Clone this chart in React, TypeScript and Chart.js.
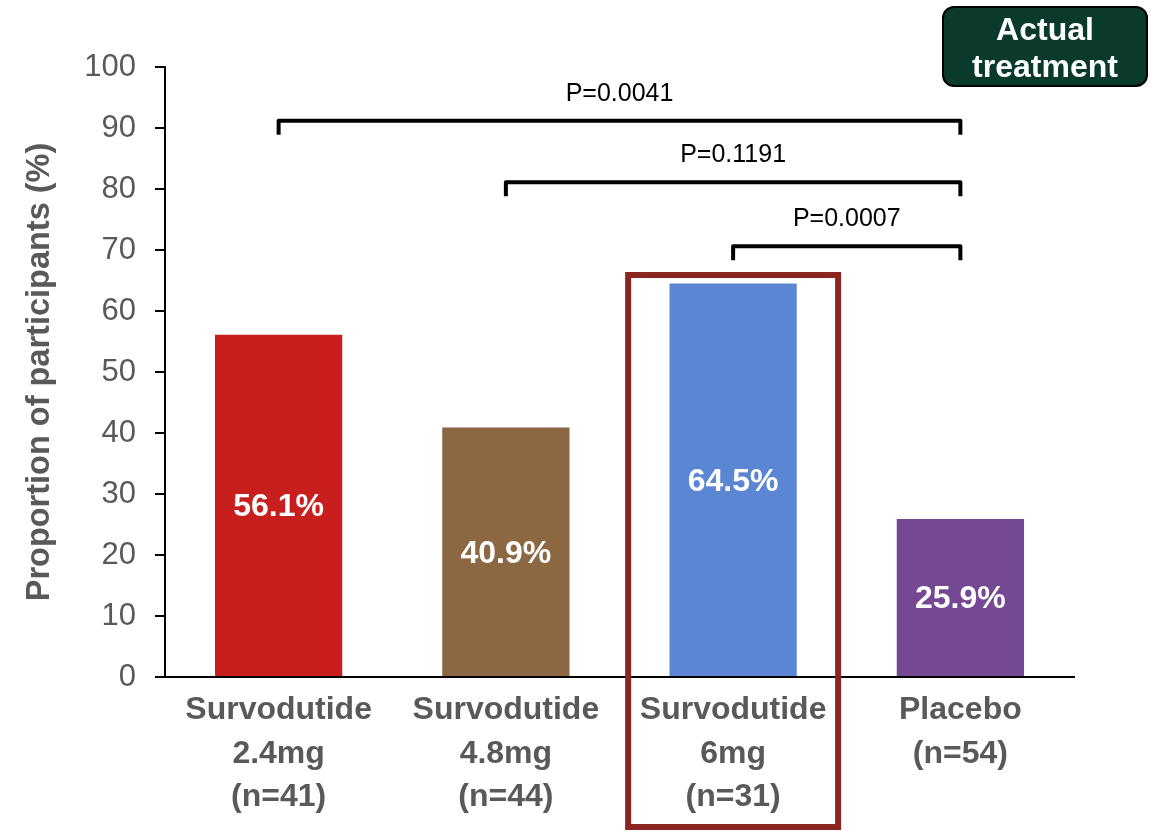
import React, { useEffect, useRef } from 'react';
import { Chart, registerables } from 'chart.js';

Chart.register(...registerables);

const categories: string[][] = [
  ['Survodutide', '2.4mg', '(n=41)'],
  ['Survodutide', '4.8mg', '(n=44)'],
  ['Survodutide', '6mg', '(n=31)'],
  ['Placebo', '(n=54)'],
];
const values = [56.1, 40.9, 64.5, 25.9];
const valueLabels = ['56.1%', '40.9%', '64.5%', '25.9%'];
const barColors = ['#C81E1E', '#8B6742', '#5B86D3', '#744892'];
const bracketFrom = [0, 1, 2];
const bracketTo = [3, 3, 3];
const bracketLevels = [91.2, 81.1, 70.6];
const pLabels = ['P=0.0041', 'P=0.1191', 'P=0.0007'];
const highlightIndex = 2;
const badgeLines = ['Actual', 'treatment'];
const yTitle = 'Proportion of participants (%)';
const yMin = 0;
const yMax = 100;
const yStep = 10;

const FONT = '"Liberation Sans", Arial, sans-serif';
const GRAY = '#595959';

const overlayPlugin = {
  id: 'overlay',
  afterDatasetsDraw(chart: any) {
    const ctx = chart.ctx;
    const meta = chart.getDatasetMeta(0);
    ctx.save();
    ctx.fillStyle = '#FFFFFF';
    ctx.font = `bold 32px ${FONT}`;
    ctx.textAlign = 'center';
    ctx.textBaseline = 'middle';
    meta.data.forEach((bar: any, i: number) => {
      ctx.fillText(valueLabels[i], bar.x, (bar.y + bar.base) / 2 + 2);
    });
    ctx.restore();
  },
  afterDraw(chart: any) {
    const ctx = chart.ctx;
    const x = chart.scales.x;
    const y = chart.scales.y;
    ctx.save();
    // brackets
    ctx.strokeStyle = '#000000';
    ctx.lineWidth = 4;
    ctx.lineJoin = 'round';
    ctx.lineCap = 'butt';
    bracketLevels.forEach((lvl, i) => {
      const x1 = x.getPixelForValue(bracketFrom[i]);
      const x2 = x.getPixelForValue(bracketTo[i]);
      const yy = y.getPixelForValue(lvl);
      ctx.beginPath();
      ctx.moveTo(x1, yy + 14);
      ctx.lineTo(x1, yy);
      ctx.lineTo(x2, yy);
      ctx.lineTo(x2, yy + 14);
      ctx.stroke();
      ctx.fillStyle = '#000000';
      ctx.font = `25px ${FONT}`;
      ctx.textAlign = 'center';
      ctx.textBaseline = 'middle';
      ctx.fillText(pLabels[i], (x1 + x2) / 2, yy - 27);
    });
    // highlight box
    const cx = x.getPixelForValue(highlightIndex);
    const cw = x.getPixelForValue(1) - x.getPixelForValue(0);
    ctx.strokeStyle = '#8B2520';
    ctx.lineWidth = 6;
    ctx.lineJoin = 'miter';
    ctx.strokeRect(cx - cw * 0.462, 275, cw * 0.924, 552);
    // badge
    const bx = 943, by = 7, bw = 204, bh = 79, r = 11;
    ctx.beginPath();
    ctx.moveTo(bx + r, by);
    ctx.lineTo(bx + bw - r, by);
    ctx.arcTo(bx + bw, by, bx + bw, by + r, r);
    ctx.lineTo(bx + bw, by + bh - r);
    ctx.arcTo(bx + bw, by + bh, bx + bw - r, by + bh, r);
    ctx.lineTo(bx + r, by + bh);
    ctx.arcTo(bx, by + bh, bx, by + bh - r, r);
    ctx.lineTo(bx, by + r);
    ctx.arcTo(bx, by, bx + r, by, r);
    ctx.closePath();
    ctx.fillStyle = '#0A3A2C';
    ctx.fill();
    ctx.strokeStyle = '#000000';
    ctx.lineWidth = 2;
    ctx.stroke();
    ctx.fillStyle = '#FFFFFF';
    ctx.font = `bold 32px ${FONT}`;
    ctx.textAlign = 'center';
    ctx.textBaseline = 'middle';
    ctx.fillText(badgeLines[0], bx + bw / 2, 31);
    ctx.fillText(badgeLines[1], bx + bw / 2, 68);
    ctx.restore();
  },
};

export default function App() {
  const ref = useRef<HTMLCanvasElement | null>(null);
  useEffect(() => {
    if (!ref.current) return;
    const chart = new Chart(ref.current, {
      type: 'bar',
      data: {
        labels: categories,
        datasets: [
          {
            data: values,
            backgroundColor: barColors,
            borderWidth: 0,
            barPercentage: 0.56,
            categoryPercentage: 1,
          },
        ],
      },
      options: {
        responsive: false,
        animation: false,
        layout: { padding: { top: 67, right: 77, left: 0, bottom: 0 } },
        plugins: {
          legend: { display: false },
          tooltip: { enabled: false },
        },
        scales: {
          x: {
            grid: { display: false, drawTicks: false },
            border: { display: true, color: '#000000', width: 2 },
            ticks: {
              color: GRAY,
              padding: 12,
              maxRotation: 0,
              autoSkip: false,
              font: { family: FONT, size: 32, weight: 'bold', lineHeight: 1.35 },
            },
            afterFit: (s: any) => {
              s.height = 154;
            },
          },
          y: {
            min: yMin,
            max: yMax,
            ticks: {
              stepSize: yStep,
              color: GRAY,
              padding: 19,
              font: { family: FONT, size: 31 },
            },
            grid: {
              drawOnChartArea: false,
              drawTicks: true,
              tickLength: 10,
              color: '#000000',
              lineWidth: 2,
            },
            border: { display: true, color: '#000000', width: 2 },
            title: {
              display: true,
              text: yTitle,
              color: GRAY,
              padding: { top: 21, bottom: 0 },
              font: { family: FONT, size: 32.5, weight: 'bold' },
            },
            afterFit: (s: any) => {
              s.width = 165;
            },
          },
        },
      },
      plugins: [overlayPlugin],
    });
    return () => chart.destroy();
  }, []);
  return (
    <div style={{ position: 'absolute', left: 0, top: 0, width: 1151, height: 831 }}>
      <canvas ref={ref} width={1151} height={831} style={{ display: 'block' }} />
    </div>
  );
}
